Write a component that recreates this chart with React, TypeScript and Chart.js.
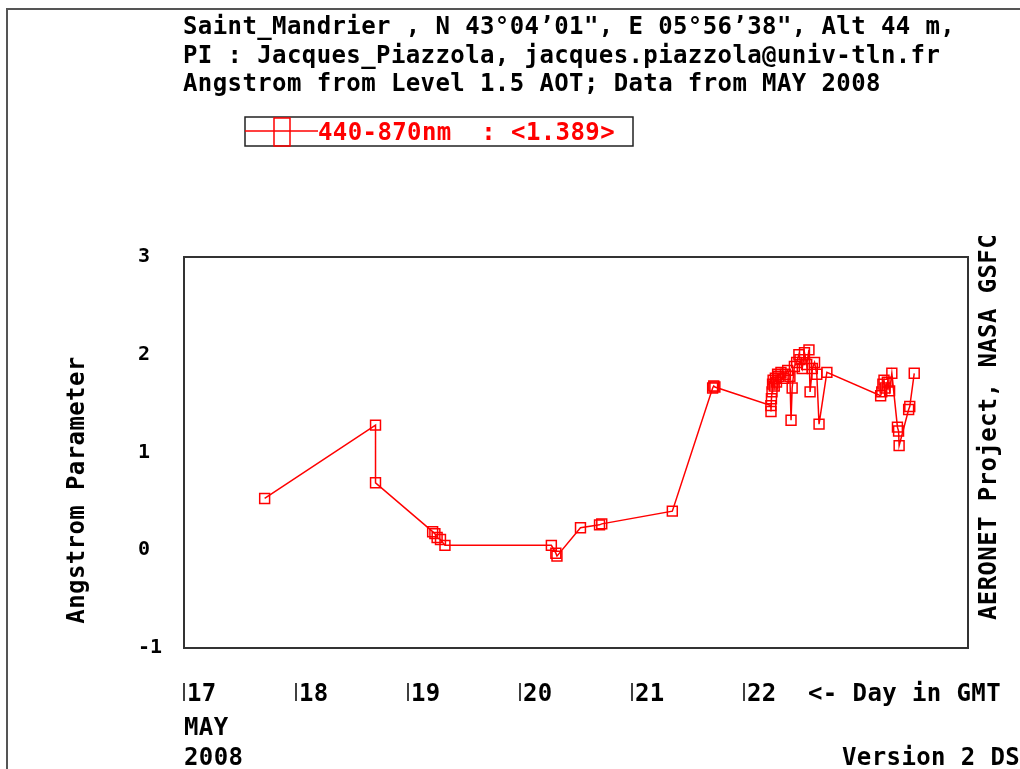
import { useEffect, useRef } from "react";
import { Chart, registerables } from "chart.js";

Chart.register(...registerables);

const titleLines = [
  "Saint_Mandrier , N 43°04’01\", E 05°56’38\", Alt 44 m,",
  "PI : Jacques_Piazzola, jacques.piazzola@univ-tln.fr",
  "Angstrom from Level 1.5 AOT; Data from MAY 2008",
];
const seriesLabel = "440-870nm  : <1.389>";
const yAxisTitle = "Angstrom Parameter";
const rightTitle = "AERONET Project, NASA GSFC";
const dayTicks = [17, 18, 19, 20, 21, 22];
const xAxisNote = "<- Day in GMT";
const monthLabel = "MAY";
const yearLabel = "2008";
const versionLabel = "Version 2 DS";

const days = [
  17.72, 18.71, 18.71,
  19.22, 19.24, 19.26, 19.29, 19.33,
  20.28, 20.32, 20.33, 20.54, 20.71, 20.73, 21.36,
  21.72, 21.73, 21.74,
  22.24, 22.241, 22.245, 22.25, 22.255, 22.26, 22.27, 22.28, 22.29, 22.3, 22.31, 22.33, 22.35, 22.37, 22.39, 22.41,
  22.42, 22.43, 22.45, 22.47, 22.49, 22.5, 22.52, 22.54, 22.56, 22.58, 22.59, 22.61, 22.63, 22.65, 22.67, 22.74,
  23.22, 23.23, 23.24, 23.25, 23.26, 23.28, 23.3, 23.32, 23.37, 23.38, 23.385, 23.47, 23.48, 23.52,
];
const angstrom = [
  0.53, 1.28, 0.69,
  0.19, 0.17, 0.13, 0.11, 0.05,
  0.05, -0.03, -0.06, 0.23, 0.26, 0.27, 0.4,
  1.66, 1.68, 1.67,
  1.48, 1.42, 1.55, 1.62, 1.7, 1.74, 1.68, 1.76, 1.72, 1.8, 1.78, 1.82, 1.76, 1.8, 1.84, 1.78,
  1.33, 1.66, 1.88, 1.92, 2.0, 1.95, 1.86, 2.02, 1.9, 2.05, 1.62, 1.86, 1.92, 1.8, 1.29, 1.82,
  1.58, 1.62, 1.7, 1.74, 1.66, 1.72, 1.63, 1.81, 1.26, 1.22, 1.07, 1.44, 1.47, 1.81,
];

const FONT = '"DejaVu Sans Mono", "Liberation Mono", monospace';
const RED = "#ff0000";

const overlay = {
  id: "overlay",
  afterDraw(chart: any) {
    const ctx: CanvasRenderingContext2D = chart.ctx;
    const { left, top, right, bottom } = chart.chartArea;
    const xs = chart.scales.x;
    ctx.save();
    // outer frame
    ctx.strokeStyle = "#555";
    ctx.lineWidth = 2;
    ctx.beginPath();
    ctx.moveTo(7, 769);
    ctx.lineTo(7, 9);
    ctx.lineTo(1020, 9);
    ctx.stroke();
    // plot box
    ctx.strokeStyle = "#333";
    ctx.lineWidth = 2;
    ctx.strokeRect(left, top, right - left, bottom - top);

    (ctx as any).letterSpacing = "0.4px";
    ctx.font = `bold 24px ${FONT}`;
    ctx.fillStyle = "#000";
    ctx.textAlign = "left";
    ctx.textBaseline = "alphabetic";
    titleLines.forEach((t, i) => ctx.fillText(t, 183, 34 + i * 28.5));

    // legend
    ctx.strokeStyle = "#222";
    ctx.lineWidth = 1.5;
    ctx.strokeRect(245, 117, 388, 29);
    ctx.strokeStyle = RED;
    ctx.beginPath();
    ctx.moveTo(245, 131);
    ctx.lineTo(318, 131);
    ctx.stroke();
    ctx.strokeRect(274, 118, 16, 28);
    ctx.fillStyle = RED;
    ctx.fillText(seriesLabel, 318, 140);

    // x day labels
    ctx.fillStyle = "#000";
    ctx.strokeStyle = "#000";
    ctx.lineWidth = 1.5;
    dayTicks.forEach((d) => {
      const px = Math.round(xs.getPixelForValue(d));
      ctx.beginPath();
      ctx.moveTo(px, 683);
      ctx.lineTo(px, 701);
      ctx.stroke();
      ctx.fillText(String(d), px + 3, 701);
    });
    ctx.fillText(xAxisNote, 808, 701);
    ctx.fillText(monthLabel, 184, 735);
    ctx.fillText(yearLabel, 184, 765);
    ctx.fillText(versionLabel, 842, 765);

    // rotated titles
    ctx.textAlign = "center";
    ctx.save();
    ctx.translate(84, 490);
    ctx.rotate(-Math.PI / 2);
    ctx.fillText(yAxisTitle, 0, 0);
    ctx.restore();
    ctx.save();
    ctx.translate(996, 427);
    ctx.rotate(-Math.PI / 2);
    ctx.fillText(rightTitle, 0, 0);
    ctx.restore();

    ctx.restore();
  },
};

export default function App() {
  const ref = useRef<HTMLCanvasElement>(null);
  useEffect(() => {
    document.body.style.margin = "0";
    document.body.style.background = "#fff";
    const chart = new Chart(ref.current!, {
      type: "line",
      data: {
        datasets: [
          {
            label: seriesLabel,
            data: days.map((d, i) => ({ x: d, y: angstrom[i] })),
            borderColor: RED,
            borderWidth: 1.5,
            pointStyle: "rect",
            pointRadius: 7,
            pointBorderWidth: 1.5,
            pointBorderColor: RED,
            pointBackgroundColor: "rgba(255,255,255,0)",
            tension: 0,
          },
        ],
      },
      options: {
        responsive: false,
        animation: false,
        layout: { padding: { left: 138, top: 257, right: 52, bottom: 121 } },
        plugins: { legend: { display: false }, tooltip: { enabled: false } },
        scales: {
          x: { type: "linear", min: 17, max: 24, display: false },
          y: {
            type: "linear",
            min: -1,
            max: 3,
            position: "left",
            afterFit: (s: any) => {
              s.width = 46;
            },
            ticks: {
              stepSize: 1,
              crossAlign: "far",
              color: "#000",
              font: { family: FONT, size: 20, weight: "bold" },
            },
            grid: { display: false, drawTicks: false },
            border: { display: false },
          },
        },
      },
      plugins: [overlay],
    } as any);
    return () => chart.destroy();
  }, []);
  return (
    <div style={{ position: "absolute", left: 0, top: 0, width: 1020, height: 769 }}>
      <canvas ref={ref} width={1020} height={769} />
    </div>
  );
}
